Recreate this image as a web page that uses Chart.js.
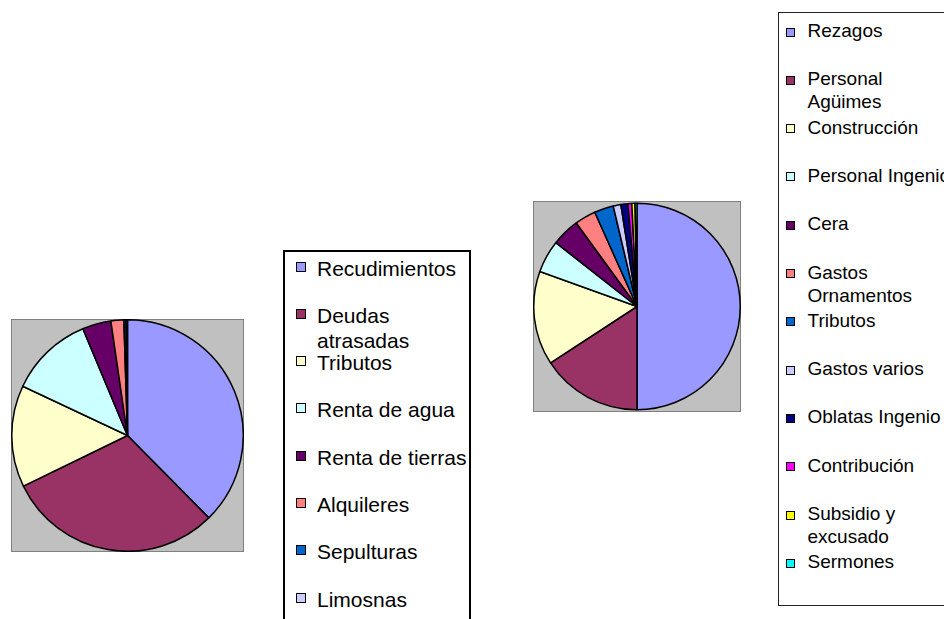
<!DOCTYPE html>
<html>
<head>
<meta charset="utf-8">
<script src="https://cdn.jsdelivr.net/npm/chart.js@4/dist/chart.umd.min.js"></script>
<style>
	html, body { margin: 0; padding: 0; background: #fff; }
	body { position: relative; width: 944px; height: 619px; overflow: hidden; font-family: "Liberation Sans", Arial, sans-serif; color: #000; }
	canvas { position: absolute; }
	.legend { position: absolute; background: #fff; box-sizing: border-box; }
	.sw { position: absolute; box-sizing: border-box; border: 1px solid #000; }
	.tx { position: absolute; white-space: normal; }
</style>
</head>
<body>
<canvas id="pie-ingresos" width="233" height="233" style="left:11px; top:319px;"></canvas>
<div class="legend" id="legend-ingresos" style="left:283px; top:250px; width:188px; height:420px; border:2px solid #000;"></div>

<canvas id="pie-gastos" width="208" height="211" style="left:533px; top:201px;"></canvas>
<div class="legend" id="legend-gastos" style="left:778px; top:12px; width:200px; height:594px; border:1px solid #222;"></div>

<script>
	// Paleta por defecto (estilo Excel)
	var colores = ["#9999FF", "#993366", "#FFFFCC", "#CCFFFF", "#660066", "#FF8080",
		"#0066CC", "#CCCCFF", "#000080", "#FF00FF", "#FFFF00", "#00FFFF"];

	// Datos gráfico 1 (ingresos, %)
	var etiquetasIngresos = ["Recudimientos", "Deudas atrasadas", "Tributos", "Renta de agua",
		"Renta de tierras", "Alquileres", "Sepulturas", "Limosnas"];
	var valoresIngresos = [37.6, 30.2, 14.2, 11.7, 4.0, 1.8, 0.3, 0.2];

	// Datos gráfico 2 (gastos, %)
	var etiquetasGastos = ["Rezagos", "Personal Agüimes", "Construcción", "Personal Ingenio",
		"Cera", "Gastos Ornamentos", "Tributos", "Gastos varios", "Oblatas Ingenio",
		"Contribución", "Subsidio y excusado", "Sermones"];
	var valoresGastos = [50, 15.8, 14.7, 5.1, 4.4, 3.3, 3.0, 1.2, 1.1, 0.6, 0.5, 0.3];

	// Fondo gris del área de trazado
	var fondoGris = {
		id: "fondoGris",
		beforeDraw: function(chart) {
			var ctx = chart.ctx;
			ctx.save();
			ctx.fillStyle = "#C0C0C0";
			ctx.fillRect(0, 0, chart.width, chart.height);
			ctx.strokeStyle = "#808080";
			ctx.lineWidth = 1;
			ctx.strokeRect(0.5, 0.5, chart.width - 1, chart.height - 1);
			ctx.restore();
		}
	};

	function dibujarTarta(idCanvas, etiquetas, valores) {
		var ctx = document.getElementById(idCanvas).getContext("2d");
		return new Chart(ctx, {
			type: "pie",
			data: {
				labels: etiquetas,
				datasets: [{
					data: valores,
					backgroundColor: colores.slice(0, valores.length),
					borderColor: "#000",
					borderWidth: 1.5
				}]
			},
			options: {
				responsive: false,
				animation: false,
				devicePixelRatio: 1,
				layout: { padding: 0 },
				plugins: {
					legend: { display: false },
					tooltip: { enabled: false }
				}
			},
			plugins: [fondoGris]
		});
	}

	// Leyenda en HTML (cuadro con filas fijas, como la hoja original)
	function dibujarLeyenda(idCaja, etiquetas, cfg) {
		var caja = document.getElementById(idCaja);
		var rect = { left: parseFloat(caja.style.left), top: parseFloat(caja.style.top) };
		etiquetas.forEach(function(texto, i) {
			var y = cfg.primeraFila + i * cfg.paso;
			var sw = document.createElement("div");
			sw.className = "sw";
			sw.style.left = (cfg.swX - rect.left) + "px";
			sw.style.top = (y + cfg.swDesp - rect.top) + "px";
			sw.style.width = cfg.swTam + "px";
			sw.style.height = cfg.swTam + "px";
			sw.style.background = colores[i];
			caja.appendChild(sw);

			var tx = document.createElement("div");
			tx.className = "tx";
			tx.textContent = texto;
			tx.style.left = (cfg.txX - rect.left) + "px";
			tx.style.top = (y - rect.top) + "px";
			tx.style.width = cfg.anchoTexto + "px";
			tx.style.fontSize = cfg.fuente + "px";
			tx.style.lineHeight = cfg.interlinea + "px";
			caja.appendChild(tx);
		});
	}

	dibujarTarta("pie-ingresos", etiquetasIngresos, valoresIngresos);
	dibujarTarta("pie-gastos", etiquetasGastos, valoresGastos);

	dibujarLeyenda("legend-ingresos", etiquetasIngresos, {
		primeraFila: 253.5, paso: 47.3, fuente: 21, interlinea: 25,
		swX: 294, swDesp: 6, swTam: 10, txX: 315, anchoTexto: 154
	});
	dibujarLeyenda("legend-gastos", etiquetasGastos, {
		primeraFila: 18, paso: 48.3, fuente: 19, interlinea: 23,
		swX: 785, swDesp: 8.5, swTam: 9, txX: 806.5, anchoTexto: 148
	});
</script>
</body>
</html>
